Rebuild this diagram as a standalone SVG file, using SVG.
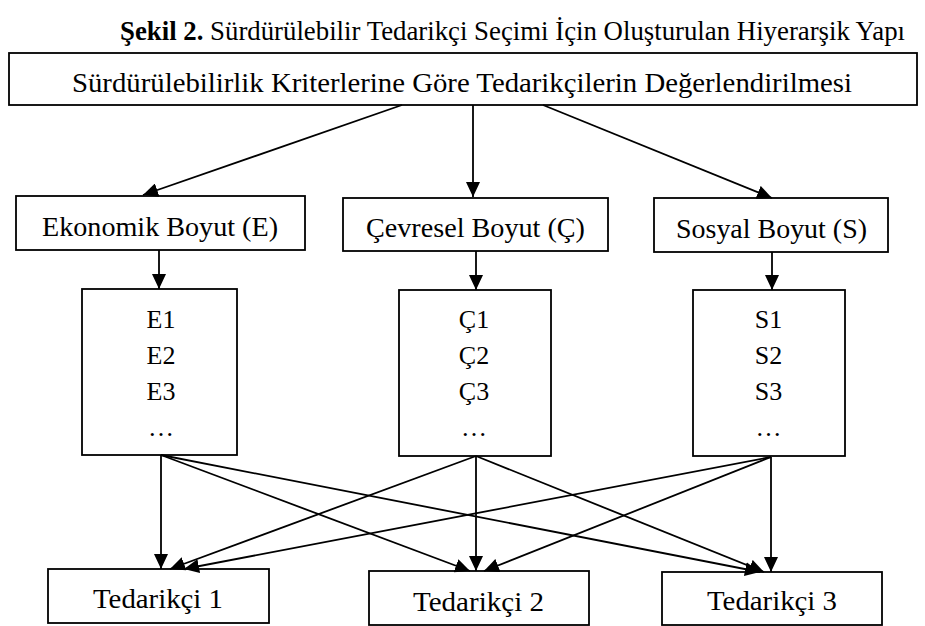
<svg xmlns="http://www.w3.org/2000/svg" width="925" height="626" viewBox="0 0 925 626">
<style>
.box{fill:#fff;stroke:#000;stroke-width:1.8}
.t{font-family:"Liberation Serif","Times New Roman",serif;font-size:26px;fill:#000;text-anchor:middle}
.tl{font-family:"Liberation Serif","Times New Roman",serif;font-size:27px;fill:#000}
.c line{stroke:#000;stroke-width:1.8;marker-end:url(#ah)}
</style>
<defs>
<marker id="ah" markerUnits="userSpaceOnUse" markerWidth="16" markerHeight="14" refX="15" refY="7" orient="auto">
<path d="M0,0 L15,7 L0,14 z" fill="#000"/>
</marker>
</defs>
<rect width="925" height="626" fill="#fff"/>
<text id="title" class="tl" x="120" y="40" font-size="24" textLength="785" lengthAdjust="spacingAndGlyphs"><tspan font-weight="bold">Şekil 2.</tspan> Sürdürülebilir Tedarikçi Seçimi İçin Oluşturulan Hiyerarşik Yapı</text>
<g id="goal">
<rect class="box" x="9" y="53" width="908" height="52"/>
<text class="tl" x="72" y="92" textLength="780" lengthAdjust="spacingAndGlyphs">Sürdürülebilirlik Kriterlerine Göre Tedarikçilerin Değerlendirilmesi</text>
</g>
<g id="ekonomik">
<rect class="box" x="16" y="196" width="289" height="54"/>
<text class="tl" x="42" y="236" textLength="236" lengthAdjust="spacingAndGlyphs">Ekonomik Boyut (E)</text>
</g>
<g id="cevresel">
<rect class="box" x="343" y="198" width="265" height="53"/>
<text class="tl" x="366" y="237" textLength="219" lengthAdjust="spacingAndGlyphs">Çevresel Boyut (Ç)</text>
</g>
<g id="sosyal">
<rect class="box" x="654" y="198" width="234" height="54"/>
<text class="tl" x="676" y="238" textLength="191" lengthAdjust="spacingAndGlyphs">Sosyal Boyut (S)</text>
</g>
<g id="e-list">
<rect class="box" x="82" y="289" width="155" height="166"/>
<text class="t" x="161" y="328">E1</text>
<text class="t" x="161" y="364">E2</text>
<text class="t" x="161" y="400">E3</text>
<text class="t" x="161" y="436">…</text>
</g>
<g id="c-list">
<rect class="box" x="399" y="290" width="152" height="166"/>
<text class="t" x="474" y="328">Ç1</text>
<text class="t" x="474" y="364">Ç2</text>
<text class="t" x="474" y="400">Ç3</text>
<text class="t" x="474" y="436">…</text>
</g>
<g id="s-list">
<rect class="box" x="693" y="290" width="152" height="166"/>
<text class="t" x="768.5" y="328">S1</text>
<text class="t" x="768.5" y="364">S2</text>
<text class="t" x="768.5" y="400">S3</text>
<text class="t" x="768.5" y="436">…</text>
</g>
<g id="tedarikci1">
<rect class="box" x="48" y="569" width="221" height="54"/>
<text class="tl" x="93" y="608" textLength="130" lengthAdjust="spacingAndGlyphs">Tedarikçi 1</text>
</g>
<g id="tedarikci2">
<rect class="box" x="369" y="571" width="220" height="54"/>
<text class="tl" x="413" y="610.5" textLength="131" lengthAdjust="spacingAndGlyphs">Tedarikçi 2</text>
</g>
<g id="tedarikci3">
<rect class="box" x="662" y="572" width="220" height="53"/>
<text class="tl" x="707" y="610" textLength="130" lengthAdjust="spacingAndGlyphs">Tedarikçi 3</text>
</g>
<g id="connectors" class="c">
<line x1="402" y1="105" x2="143" y2="195"/>
<line x1="473" y1="105" x2="473" y2="197"/>
<line x1="543" y1="105" x2="772" y2="198"/>
<line x1="159" y1="250" x2="159" y2="289"/>
<line x1="476" y1="251" x2="476" y2="290"/>
<line x1="772" y1="252" x2="772" y2="290"/>
<line x1="161" y1="455" x2="161" y2="569"/>
<line x1="161" y1="455" x2="470" y2="571"/>
<line x1="161" y1="455" x2="760" y2="572"/>
<line x1="476" y1="456" x2="170" y2="569"/>
<line x1="476" y1="456" x2="476" y2="571"/>
<line x1="476" y1="456" x2="764" y2="572"/>
<line x1="771" y1="457" x2="184" y2="569"/>
<line x1="771" y1="457" x2="484" y2="571"/>
<line x1="771" y1="457" x2="771" y2="572"/>
</g>
</svg>
